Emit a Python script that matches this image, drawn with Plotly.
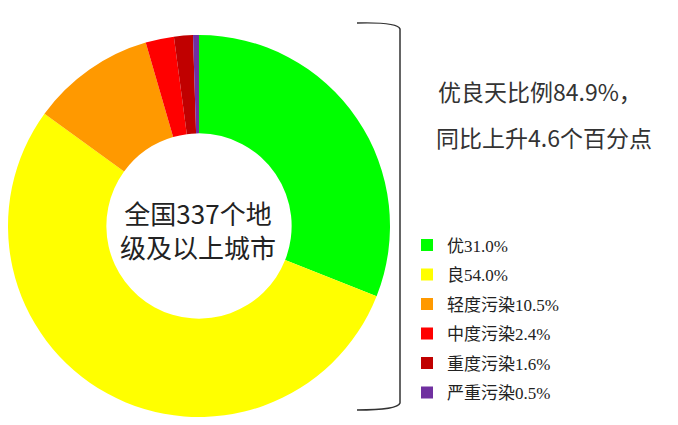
import plotly.graph_objects as go

W, H = 678, 425
OFF = 8  # the page body margin shifts the figure by 8px

labels = ["优", "良", "轻度污染", "中度污染", "重度污染", "严重污染"]
shares = [31.0, 54.0, 10.5, 2.4, 1.6, 0.5]
colors = ["#00FF00", "#FFFF00", "#FF9900", "#FF0000", "#C00000", "#7030A0"]

center_text = "全国337个地<br>级及以上城市"
side_lines = ["优良天比例84.9%，", "同比上升4.6个百分点"]

# pie placement in figure pixels
cx, cy, r = 191, 218, 191

fig = go.Figure()
fig.add_trace(go.Pie(
    labels=labels, values=shares, sort=False, direction="clockwise", rotation=0,
    hole=0.485, textinfo="none", hoverinfo="label+percent", showlegend=False,
    marker=dict(colors=colors, line=dict(width=0)),
    domain=dict(x=[(cx - r) / W, (cx + r) / W], y=[1 - (cy + r) / H, 1 - (cy - r) / H]),
))

# legend entries (one group per item so the spacing can be set)
for lab, val, col in zip(labels, shares, colors):
    fig.add_trace(go.Scatter(
        x=[None], y=[None], mode="markers", name=f"{lab}{val:.1f}%",
        legendgroup=lab, marker=dict(symbol="square", size=12, color=col),
    ))

fig.add_annotation(x=198 - OFF, y=229 - OFF, text=center_text, showarrow=False,
                   font=dict(family="Noto Sans CJK SC", size=26, color="#222"),
                   xanchor="center", yanchor="middle")
for i, (line, xc) in enumerate(zip(side_lines, [540, 544])):
    fig.add_annotation(x=xc - OFF, y=91 - OFF + 46 * i, text=line, showarrow=False,
                       font=dict(family="Noto Sans CJK SC", size=23, color="#333"),
                       xanchor="center", yanchor="middle")

# bracket
fig.add_shape(type="path", path="M 349,15 Q 390,14 392,21 L 392,395 Q 390,402 349,402",
              line=dict(color="#333", width=1.5))

fig.update_layout(
    width=W, height=H, margin=dict(l=0, r=0, t=0, b=0),
    paper_bgcolor="white", plot_bgcolor="white",
    xaxis=dict(range=[0, W], visible=False, fixedrange=True),
    yaxis=dict(range=[H, 0], visible=False, fixedrange=True),
    legend=dict(x=399 / W, y=1 - 219.5 / H, xanchor="left", yanchor="top",
                tracegroupgap=4.4, bgcolor="rgba(0,0,0,0)",
                font=dict(family="Liberation Serif, Noto Sans CJK SC", size=17, color="#222")),
)

fig.write_html("out.html")
